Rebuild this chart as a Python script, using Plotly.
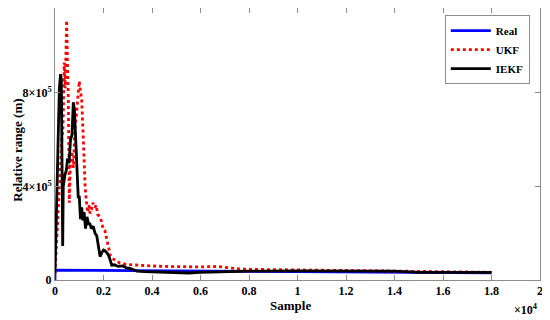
import plotly.graph_objects as go

# ---- data (sample index, relative range in m) ----
real_x = [0, 1, 18000]
real_y = [0, 42000, 31000]

ukf_x = [0, 100, 200, 280, 330, 380, 420, 450, 480, 520, 550, 590, 640, 690, 760, 820, 880,
         940, 1000, 1060, 1100, 1170, 1240, 1300, 1350, 1400, 1440, 1500, 1560, 1650, 1700,
         1760, 1850, 1920, 1980, 2060, 2120, 2200, 2280, 2340, 2500, 2680, 3000, 3500, 4000,
         4500, 4870, 5500, 6000, 6700, 7600, 8500, 10000, 11750, 14000, 16000, 18000]
ukf_y = [30000, 250000, 450000, 600000, 650000, 930000, 820000, 950000, 1110000, 900000,
         770000, 330000, 520000, 550000, 480000, 650000, 700000, 780000, 850000, 800000,
         770000, 600000, 400000, 330000, 290000, 320000, 285000, 300000, 330000, 310000,
         320000, 280000, 270000, 250000, 220000, 210000, 180000, 140000, 105000, 94000,
         85000, 72000, 66000, 62000, 60000, 58000, 57000, 56000, 56000, 58000, 47000, 45000,
         43000, 40000, 39000, 34000, 33000]

iekf_x = [0, 60, 130, 180, 230, 260, 290, 317, 340, 410, 470, 520, 580, 640, 700, 755, 800,
          850, 900, 960, 1000, 1050, 1100, 1150, 1200, 1260, 1320, 1380, 1440, 1500, 1580,
          1650, 1720, 1790, 1860, 1920, 2000, 2060, 2150, 2230, 2280, 2340, 2450, 2600, 2800,
          2950, 3090, 3250, 3370, 3700, 3920, 5000, 5500, 6000, 7000, 8000, 10000, 12000,
          14000, 15000, 16000, 18000]
iekf_y = [30000, 300000, 600000, 820000, 880000, 860000, 500000, 145000, 400000, 450000,
          470000, 520000, 500000, 600000, 620000, 760000, 730000, 620000, 450000, 350000,
          360000, 260000, 310000, 255000, 290000, 220000, 270000, 240000, 240000, 220000,
          230000, 200000, 190000, 150000, 100000, 115000, 128000, 125000, 115000, 100000,
          80000, 63000, 65000, 58000, 60000, 52000, 50000, 45000, 38000, 36000, 35000,
          33000, 30000, 33000, 36000, 38000, 39000, 39000, 38000, 33000, 33000, 33000]

x_tickvals = [0, 2000, 4000, 6000, 8000, 10000, 12000, 14000, 16000, 18000, 20000]
x_ticktext = ["0", "0.2", "0.4", "0.6", "0.8", "1", "1.2", "1.4", "1.6", "1.8", "2"]
y_tickvals = [0, 400000, 800000]
y_ticktext = ["0", "4×10<sup>5</sup>", "8×10<sup>5</sup>"]

FONT = "Liberation Serif"

fig = go.Figure()
fig.add_trace(go.Scatter(x=real_x, y=real_y, mode="lines", name="<b>Real</b>",
                         line=dict(color="#0000ff", width=2.8)))
fig.add_trace(go.Scatter(x=ukf_x, y=ukf_y, mode="lines", name="<b>UKF</b>",
                         line=dict(color="#ff0000", width=2.8, dash="dot")))
fig.add_trace(go.Scatter(x=iekf_x, y=iekf_y, mode="lines", name="<b>IEKF</b>",
                         line=dict(color="#000000", width=2.8)))

axis_common = dict(showgrid=False, zeroline=False, showline=True, linecolor="#8c8c8c",
                   linewidth=1, mirror="allticks", ticks="inside", ticklen=5,
                   tickcolor="#8c8c8c", automargin=False,
                   tickfont=dict(family=FONT, size=12, color="black"))

fig.update_xaxes(range=[0, 20000], tickvals=x_tickvals,
                 ticktext=["<b>%s</b>" % t for t in x_ticktext], **axis_common)
fig.update_yaxes(range=[0, 1163000], tickvals=y_tickvals,
                 ticktext=["<b>%s</b>" % t for t in y_ticktext], **axis_common)

fig.add_annotation(text="<b>Sample</b>", xref="paper", yref="paper",
                   x=0.485, y=-0.095, xanchor="center", yanchor="middle", showarrow=False,
                   font=dict(family=FONT, size=13, color="black"))
fig.add_annotation(text="<b>Relative range (m)</b>", xref="paper", yref="paper",
                   x=-0.0965, y=0.478, xanchor="left", yanchor="middle", showarrow=False,
                   textangle=-90, font=dict(family=FONT, size=13, color="black"))
fig.add_annotation(text="<b>×10<sup>4</sup></b>", xref="paper", yref="paper",
                   x=1.0, y=-0.075, xanchor="right", yanchor="top", showarrow=False,
                   font=dict(family=FONT, size=12, color="black"))

fig.update_layout(
    width=542, height=312,
    margin=dict(l=47, r=10, t=0, b=40, autoexpand=False),
    plot_bgcolor="white", paper_bgcolor="white",
    font=dict(family=FONT, color="black"),
    legend=dict(x=0.979, y=0.974, xanchor="right", yanchor="top",
                bgcolor="white", bordercolor="#8c8c8c", borderwidth=1,
                font=dict(family=FONT, size=11, color="black"),
                itemwidth=40, tracegroupgap=0),
    showlegend=True,
)

fig.write_html("out.html")
